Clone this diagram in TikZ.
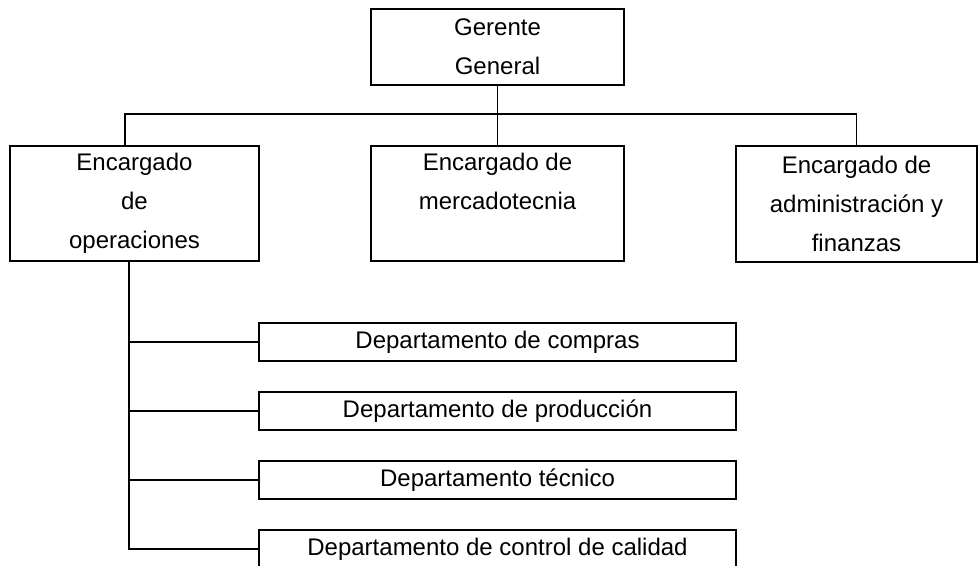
\documentclass[tikz,border=0pt]{standalone}
\usepackage{fontspec}
\setmainfont{Liberation Sans}
\usetikzlibrary{positioning}
\begin{document}
\begin{tikzpicture}[x=0.5pt,y=-0.5pt,
	caja/.style={draw,line width=1.1pt,align=center,inner sep=0pt,font=\fontsize{12}{19.5}\selectfont},
	depto/.style={caja,minimum width=238.5pt,minimum height=19pt},
	linea/.style={line width=0.6pt}]
			\useasboundingbox (0,0) rectangle (978,566);
			\node[caja,minimum width=126.5pt,minimum height=38pt] (ger) at (497.5,47) {Gerente\\General};
			\node[caja,minimum width=124.5pt,minimum height=57.5pt] (ope) at (134.5,203.5) {Encargado\\de\\operaciones};
			\node[caja,minimum width=126.5pt,minimum height=57.5pt] (mer) at (497.5,203.5) {Encargado de\\mercadotecnia\\\phantom{p}};
			\node[caja,minimum width=120.5pt,minimum height=58pt] (adm) at (856.5,204) {Encargado de\\administración y\\finanzas};
			\node[depto] (d1) at (497.5,342) {Departamento de compras};
			\node[depto] (d2) at (497.5,411) {Departamento de producción};
			\node[depto] (d3) at (497.5,480) {Departamento técnico};
			\node[depto] (d4) at (497.5,549) {Departamento de control de calidad};
			\coordinate (bus) at (0,114);
			\draw[linea] (ger.south) -- (mer.north);
			\draw[linea] ([xshift=-4.75pt]ope.north) |- (bus -| adm.north) -- (adm.north);
			\coordinate (tronco) at ([xshift=-2.75pt]ope.south);
			\draw[linea] (tronco) |- (d4.west);
			\foreach \d in {d1,d2,d3}
				\draw[linea] (tronco |- \d.west) -- (\d.west);
		    \end{tikzpicture}
\end{document}
